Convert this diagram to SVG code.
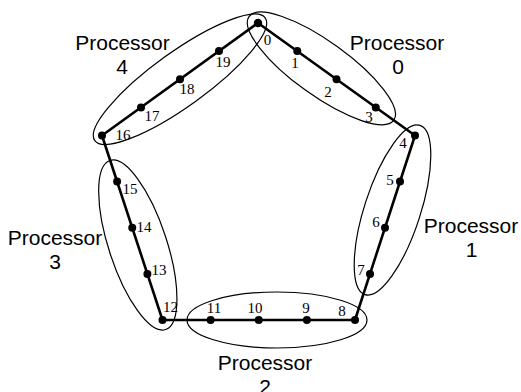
<svg xmlns="http://www.w3.org/2000/svg" width="521" height="392" viewBox="0 0 521 392">
  <style>
    .part { fill: none; stroke: #000; stroke-width: 1.2; }
    .edge { stroke: #000; stroke-width: 2.6; stroke-linecap: round; }
    .dot { fill: #000; }
    .num { font-family: "Liberation Serif", "Times New Roman", serif; font-size: 15px; text-anchor: middle; fill: #000; }
    .proc { font-family: "Liberation Sans", Arial, sans-serif; font-size: 21px; text-anchor: middle; fill: #000; }
  </style>
  <rect width="521" height="392" fill="#fff"/>

  <!-- processor partitions -->
  <g id="processor0">
    <ellipse class="part" cx="321.4" cy="68.4" rx="89" ry="27" transform="rotate(35.6 321.4 68.4)"/>
    <text class="proc" x="397" y="50">Processor</text>
    <text class="proc" x="398" y="74">0</text>
  </g>
  <g id="processor1">
    <ellipse class="part" cx="392.5" cy="210" rx="89" ry="28" transform="rotate(108 392.5 210)"/>
    <text class="proc" x="471" y="233">Processor</text>
    <text class="proc" x="471.5" y="257">1</text>
  </g>
  <g id="processor2">
    <ellipse class="part" cx="277" cy="320" rx="90" ry="28"/>
    <text class="proc" x="265" y="370">Processor</text>
    <text class="proc" x="265" y="394">2</text>
  </g>
  <g id="processor3">
    <ellipse class="part" cx="137.8" cy="245" rx="89" ry="29" transform="rotate(71.8 137.8 245)"/>
    <text class="proc" x="55" y="245">Processor</text>
    <text class="proc" x="55" y="268.5">3</text>
  </g>
  <g id="processor4">
    <ellipse class="part" cx="180" cy="79.25" rx="105" ry="27" transform="rotate(-35.8 180 79.25)"/>
    <text class="proc" x="122.5" y="50">Processor</text>
    <text class="proc" x="122" y="73.5">4</text>
  </g>

  <!-- ring connections -->
  <g id="connectors">
    <line class="edge" x1="258" y1="23" x2="415" y2="135.5"/>
    <line class="edge" x1="415" y1="135.5" x2="355" y2="320"/>
    <line class="edge" x1="355" y1="320" x2="162.5" y2="320"/>
    <line class="edge" x1="162.5" y1="320" x2="102" y2="135.5"/>
    <line class="edge" x1="102" y1="135.5" x2="258" y2="23"/>
  </g>

  <!-- nodes -->
  <g id="node0"><circle class="dot" cx="258" cy="23" r="4.2"/><text class="num" x="267.5" y="45">0</text></g>
  <g id="node1"><circle class="dot" cx="297.25" cy="51.1" r="4"/><text class="num" x="295" y="68">1</text></g>
  <g id="node2"><circle class="dot" cx="336.5" cy="79.25" r="4"/><text class="num" x="328" y="97">2</text></g>
  <g id="node3"><circle class="dot" cx="375.75" cy="107.4" r="4"/><text class="num" x="369" y="122">3</text></g>
  <g id="node4"><circle class="dot" cx="415" cy="135.5" r="4"/><text class="num" x="403" y="148">4</text></g>
  <g id="node5"><circle class="dot" cx="400" cy="181.6" r="4"/><text class="num" x="390" y="185">5</text></g>
  <g id="node6"><circle class="dot" cx="385" cy="227.75" r="4"/><text class="num" x="376" y="227">6</text></g>
  <g id="node7"><circle class="dot" cx="370" cy="273.9" r="4"/><text class="num" x="361" y="275">7</text></g>
  <g id="node8"><circle class="dot" cx="355" cy="320" r="4"/><text class="num" x="342" y="315.5">8</text></g>
  <g id="node9"><circle class="dot" cx="306.9" cy="320" r="4"/><text class="num" x="306" y="313">9</text></g>
  <g id="node10"><circle class="dot" cx="258.75" cy="320" r="4"/><text class="num" x="255" y="313">10</text></g>
  <g id="node11"><circle class="dot" cx="210.6" cy="320" r="4"/><text class="num" x="214" y="313">11</text></g>
  <g id="node12"><circle class="dot" cx="162.5" cy="320" r="4"/><text class="num" x="170.5" y="312">12</text></g>
  <g id="node13"><circle class="dot" cx="147.4" cy="273.9" r="4"/><text class="num" x="159" y="275">13</text></g>
  <g id="node14"><circle class="dot" cx="132.25" cy="227.75" r="4"/><text class="num" x="144" y="231.5">14</text></g>
  <g id="node15"><circle class="dot" cx="117.1" cy="181.6" r="4"/><text class="num" x="130" y="194">15</text></g>
  <g id="node16"><circle class="dot" cx="102" cy="135.5" r="4"/><text class="num" x="123" y="140">16</text></g>
  <g id="node17"><circle class="dot" cx="141" cy="107.4" r="4"/><text class="num" x="152" y="120.5">17</text></g>
  <g id="node18"><circle class="dot" cx="180" cy="79.25" r="4"/><text class="num" x="187" y="93.5">18</text></g>
  <g id="node19"><circle class="dot" cx="219" cy="51.1" r="4"/><text class="num" x="223" y="67">19</text></g>
</svg>
